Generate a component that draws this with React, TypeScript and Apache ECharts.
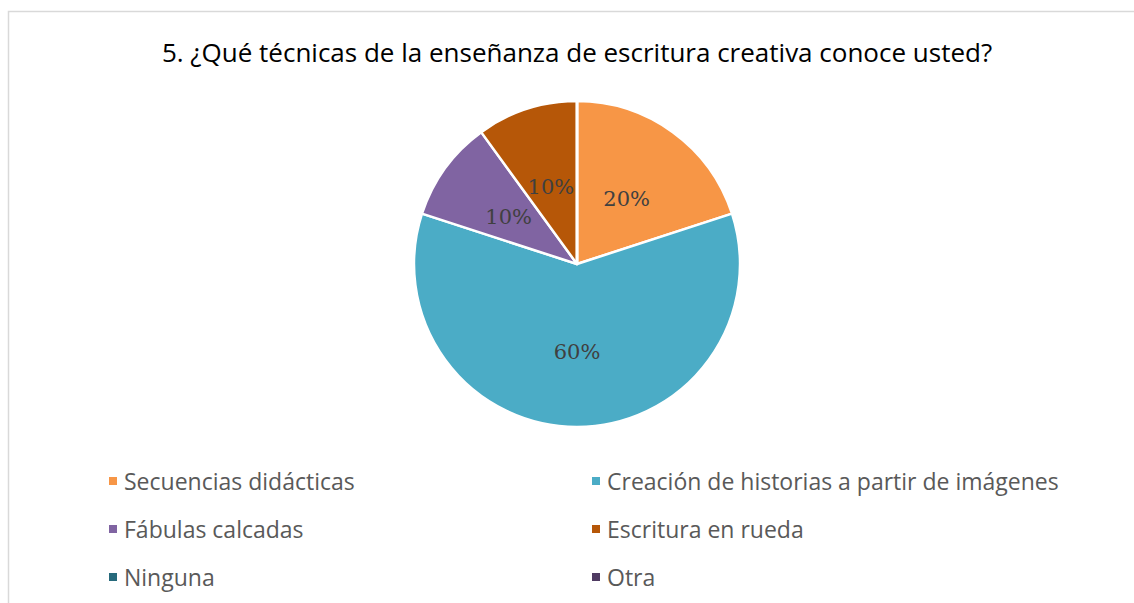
import React, { useEffect, useRef } from "react";
import * as echarts from "echarts";

const titleText = "5. ¿Qué técnicas de la enseñanza de escritura creativa conoce usted?";
const categories = [
  "Secuencias didácticas",
  "Creación de historias a partir de imágenes",
  "Fábulas calcadas",
  "Escritura en rueda",
  "Ninguna",
  "Otra",
];
const values = [20, 60, 10, 10, 0, 0];
const colors = ["#F79646", "#4BACC6", "#8064A2", "#B65708", "#276A7C", "#4F3B62"];
const legendLeft = ["Secuencias didácticas", "Fábulas calcadas", "Ninguna"];
const legendRight = ["Creación de historias a partir de imágenes", "Escritura en rueda", "Otra"];

export default function App() {
  const ref = useRef<HTMLDivElement>(null);
  useEffect(() => {
    if (!ref.current) return;
    const chart = echarts.init(ref.current, undefined, { renderer: "svg" });
    const total = values.reduce((a, b) => a + b, 0);
    const legendBase = {
      orient: "vertical" as const,
      top: 463,
      itemWidth: 10,
      itemHeight: 10,
      itemGap: 22,
      icon: "rect",
      textStyle: {
        fontFamily: "Open Sans",
        fontSize: 23,
        lineHeight: 26,
        color: "#595959",
        padding: [0, 0, 0, 1],
      },
    };
    chart.setOption({
      animation: false,
      backgroundColor: "#ffffff",
      color: colors,
      graphic: [
        {
          type: "rect",
          shape: { x: 8.5, y: 11.5, width: 1300, height: 800 },
          style: { fill: "none", stroke: "#D9D9D9", lineWidth: 1.5 },
          silent: true,
        },
        {
          type: "text",
          x: 577,
          y: 52,
          style: {
            text: titleText,
            fontFamily: "Open Sans",
            fontSize: 26,
            fill: "#000000",
            textAlign: "center",
            textVerticalAlign: "middle",
          },
        },
      ],
      legend: [
        { ...legendBase, left: 102, data: legendLeft },
        { ...legendBase, left: 585, data: legendRight },
      ],
      series: [
        {
          type: "pie",
          center: [577, 264],
          radius: [0, 163],
          startAngle: 90,
          clockwise: true,
          avoidLabelOverlap: false,
          itemStyle: { borderColor: "#ffffff", borderWidth: 2.5 },
          label: {
            show: true,
            position: "inside",
            fontFamily: "DejaVu Serif",
            fontSize: 21,
            color: "#404040",
            offset: [0, 3],
            formatter: (p: any) => (p.value > 0 ? Math.round((p.value / total) * 100) + "%" : ""),
          },
          labelLine: { show: false },
          emphasis: { disabled: true },
          data: categories.map((name, i) => ({ name, value: values[i] })),
        },
      ],
    });
    return () => chart.dispose();
  }, []);
  return (
    <div
      ref={ref}
      style={{ position: "fixed", left: 0, top: 0, width: 1134, height: 603 }}
    />
  );
}
